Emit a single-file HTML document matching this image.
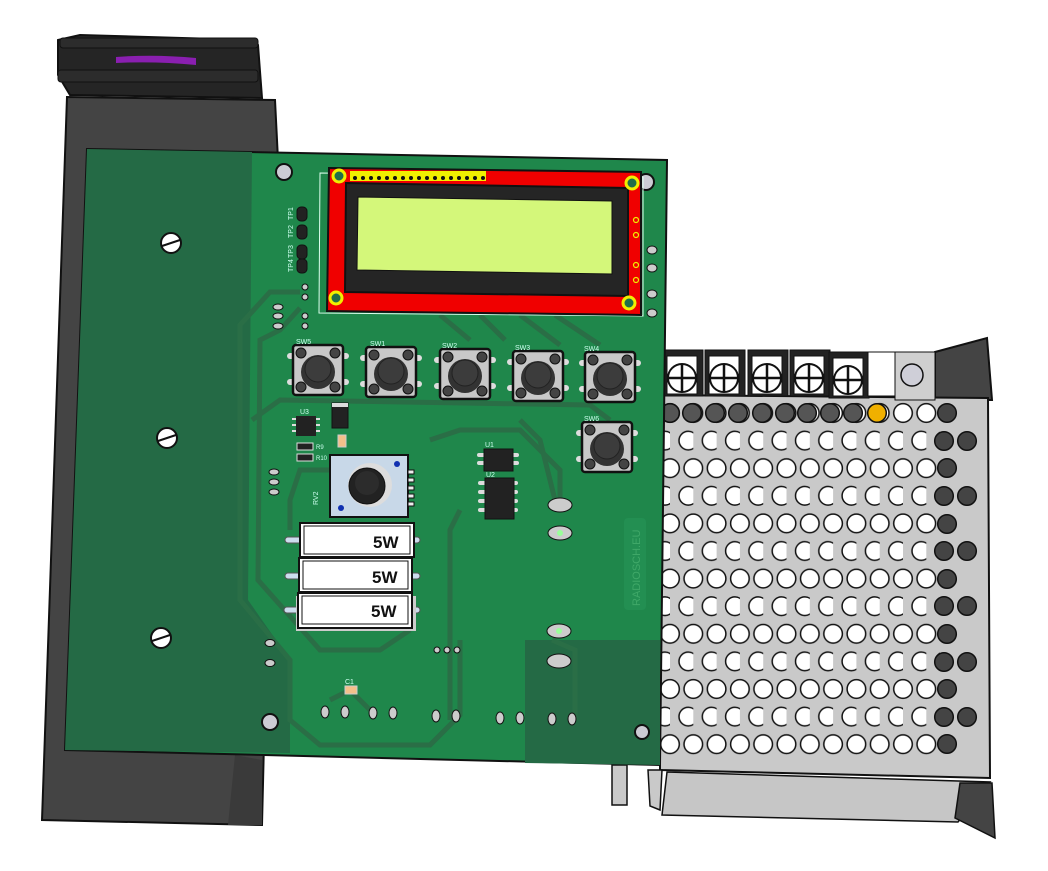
<!DOCTYPE html>
<html><head><meta charset="utf-8"><style>
html,body{margin:0;padding:0;background:#fff;}
svg{display:block;font-family:"Liberation Sans",sans-serif;}
</style></head><body>
<svg width="1048" height="871" viewBox="0 0 1048 871" xmlns="http://www.w3.org/2000/svg">
<defs>
<pattern id="holes" x="0" y="0" width="23.3" height="55.2" patternUnits="userSpaceOnUse" patternTransform="translate(670,413)">
<circle cx="0" cy="0" r="9.3" fill="#fff" stroke="#111" stroke-width="1.5"/>
<circle cx="0" cy="55.2" r="9.3" fill="#fff" stroke="#111" stroke-width="1.5"/>
<circle cx="23.3" cy="0" r="9.3" fill="#fff" stroke="#111" stroke-width="1.5"/>
<circle cx="23.3" cy="55.2" r="9.3" fill="#fff" stroke="#111" stroke-width="1.5"/>
<circle cx="18.3" cy="27.6" r="9.3" fill="#fff" stroke="#111" stroke-width="1.5"/>
</pattern>
<g id="btn">
<rect x="-6" y="8" width="62" height="6" rx="3" fill="#ddd"/>
<rect x="-6" y="34" width="62" height="6" rx="3" fill="#ddd"/>
<rect x="0" y="0" width="50" height="50" rx="3" fill="#c8c8c8" stroke="#111" stroke-width="2.5"/>
<circle cx="8" cy="8" r="5" fill="#444" stroke="#111"/>
<circle cx="42" cy="8" r="5" fill="#444" stroke="#111"/>
<circle cx="8" cy="42" r="5" fill="#444" stroke="#111"/>
<circle cx="42" cy="42" r="5" fill="#444" stroke="#111"/>
<circle cx="25" cy="27" r="17" fill="#333"/>
<circle cx="25" cy="24" r="13" fill="#3c3c3c" stroke="#222"/>
</g>
<g id="term">
<rect x="0" y="0" width="40" height="46" fill="#222" stroke="#111"/>
<path d="M4 6 h30 v38 h-30z" fill="#fff" stroke="#111"/>
<circle cx="19" cy="28" r="14" fill="#fff" stroke="#111" stroke-width="2"/>
<path d="M19 15 v26 M6 28 h26" stroke="#111" stroke-width="2.5"/>
</g>
</defs>

<!-- PSU -->
<polygon points="935,352 987,338 992,400 935,400" fill="#444" stroke="#111" stroke-width="2"/>
<polygon points="660,395 988,398 990,778 660,770" fill="#c9c9c9" stroke="#111" stroke-width="2"/>
<rect x="660" y="400" width="280" height="360" fill="url(#holes)"/>
<g fill="#444" stroke="#111" stroke-width="1.5">
<circle cx="947" cy="413" r="9.3"/><circle cx="947" cy="468" r="9.3"/><circle cx="947" cy="524" r="9.3"/><circle cx="947" cy="579" r="9.3"/><circle cx="947" cy="634" r="9.3"/><circle cx="947" cy="689" r="9.3"/><circle cx="947" cy="744" r="9.3"/>
<circle cx="944" cy="441" r="9.3"/><circle cx="944" cy="496" r="9.3"/><circle cx="944" cy="551" r="9.3"/><circle cx="944" cy="606" r="9.3"/><circle cx="944" cy="662" r="9.3"/><circle cx="944" cy="717" r="9.3"/>
<circle cx="967" cy="441" r="9.3"/><circle cx="967" cy="496" r="9.3"/><circle cx="967" cy="551" r="9.3"/><circle cx="967" cy="606" r="9.3"/><circle cx="967" cy="662" r="9.3"/><circle cx="967" cy="717" r="9.3"/>
</g>
<g fill="#555" stroke="#111" stroke-width="1.5">
<circle cx="670" cy="413" r="9.3"/><circle cx="692" cy="413" r="9.3"/><circle cx="715" cy="413" r="9.3"/><circle cx="738" cy="413" r="9.3"/><circle cx="762" cy="413" r="9.3"/><circle cx="785" cy="413" r="9.3"/><circle cx="807" cy="413" r="9.3"/><circle cx="830" cy="413" r="9.3"/><circle cx="853" cy="413" r="9.3"/>
</g>
<circle cx="877" cy="413" r="9.3" fill="#f0b000" stroke="#111" stroke-width="1.5"/>
<!-- terminal blocks -->
<use href="#term" x="663" y="350"/><use href="#term" x="705" y="350"/><use href="#term" x="748" y="350"/><use href="#term" x="790" y="350"/><use href="#term" x="829" y="352"/>
<rect x="868" y="352" width="27" height="44" fill="#fff" stroke="#111"/>
<rect x="895" y="352" width="40" height="48" fill="#cfcfcf" stroke="#111"/>
<circle cx="912" cy="375" r="11" fill="#cfcfd8" stroke="#111" stroke-width="1.5"/>
<!-- bottom flange -->
<polygon points="612,765 627,765 627,805 612,805" fill="#c9c9c9" stroke="#111" stroke-width="1.5"/>
<polygon points="648,770 662,770 660,810 650,806" fill="#c9c9c9" stroke="#111" stroke-width="1.5"/>
<polygon points="667,772 990,782 958,822 662,815" fill="#c6c6c6" stroke="#111" stroke-width="1.5"/>
<polygon points="960,783 992,783 995,838 955,818" fill="#444" stroke="#111" stroke-width="1.5"/>

<!-- heatsink -->
<polygon points="67,97 275,100 278,160 262,825 42,820" fill="#444" stroke="#111" stroke-width="2"/>
<polygon points="235,755 262,760 262,825 228,825" fill="#3a3a3a"/>
<!-- fan -->
<path d="M58 40 L80 35 L250 40 L258 45 L262 98 L70 95 L58 75 Z" fill="#252525" stroke="#111" stroke-width="2"/>
<rect x="58" y="70" width="200" height="12" rx="3" fill="#2c2c2c" stroke="#111"/>
<rect x="60" y="38" width="198" height="10" rx="3" fill="#2c2c2c" stroke="#111"/>
<path d="M116 57 Q155 54 196 58 L196 65 Q155 61 116 63 Z" fill="#8a1fb0"/>

<!-- PCB -->
<polygon points="87,149 667,160 660,765 65,750" fill="#1f874b" stroke="#111" stroke-width="2"/>
<polygon points="87,149 252,152 248,600 290,660 290,753 65,750" fill="#246a45"/>
<polygon points="525,640 660,640 660,765 525,763" fill="#246a45"/>
<!-- traces -->
<g fill="none" stroke="#2a6e46" stroke-width="5">
<path d="M300 292 L270 292 L240 325 L240 600 L290 660 L290 720 L320 745 L430 745 L460 715 L460 640"/>
<path d="M300 308 L280 330 L260 340 L258 580 L320 650 L380 650 L410 630"/>
<path d="M252 420 L280 400 L590 405 L610 420"/>
<path d="M440 315 L470 340 M480 315 L505 340 M520 315 L560 345 M555 315 L600 345"/>
<path d="M330 470 L300 470 L290 500 L290 530"/>
<path d="M430 440 L460 430 L520 430 L560 470 L560 500"/>
<path d="M460 510 L450 530 L450 720"/>
<path d="M330 700 L350 690 L370 710"/>
<path d="M552 640 L575 650 L575 720"/>
<path d="M520 420 L540 440 L555 500"/>
</g>
<!-- mounting holes & screws -->
<circle cx="284" cy="172" r="8" fill="#ccccd4" stroke="#111" stroke-width="2"/>
<circle cx="646" cy="182" r="8" fill="#ccccd4" stroke="#111" stroke-width="2"/>
<circle cx="270" cy="722" r="8" fill="#ccccd4" stroke="#111" stroke-width="2"/>
<circle cx="642" cy="732" r="7" fill="#ccccd4" stroke="#111" stroke-width="2"/>
<g fill="#fff" stroke="#111" stroke-width="2">
<circle cx="171" cy="243" r="10"/><circle cx="167" cy="438" r="10"/><circle cx="161" cy="638" r="10"/>
</g>
<g stroke="#111" stroke-width="2"><path d="M162 246 L180 240 M158 441 L176 435 M152 641 L170 635"/></g>

<!-- TP -->
<g fill="#222" stroke="#111">
<rect x="297" y="207" width="10" height="14" rx="4"/><rect x="297" y="225" width="10" height="14" rx="4"/>
<rect x="297" y="245" width="10" height="14" rx="4"/><rect x="297" y="259" width="10" height="14" rx="4"/>
</g>
<g fill="#cfe" font-size="7">
<text transform="translate(293,220) rotate(-90)">TP1</text><text transform="translate(293,238) rotate(-90)">TP2</text>
<text transform="translate(293,258) rotate(-90)">TP3</text><text transform="translate(293,272) rotate(-90)">TP4</text>
</g>
<g fill="#ccc" stroke="#111">
<circle cx="305" cy="287" r="3"/><circle cx="305" cy="297" r="3"/><circle cx="305" cy="316" r="3"/><circle cx="305" cy="326" r="3"/>
<ellipse cx="278" cy="307" rx="5" ry="3"/><ellipse cx="278" cy="316" rx="5" ry="3"/><ellipse cx="278" cy="326" rx="5" ry="3"/>
<ellipse cx="652" cy="250" rx="5" ry="4"/><ellipse cx="652" cy="268" rx="5" ry="4"/><ellipse cx="652" cy="294" rx="5" ry="4"/><ellipse cx="652" cy="313" rx="5" ry="4"/>
</g>

<!-- LCD -->
<polygon points="320,173 643,177 643,316 319,313" fill="none" stroke="#dfe" stroke-width="1"/>
<polygon points="329,168 641,172 641,315 327,311" fill="#f00000" stroke="#111" stroke-width="2"/>
<rect x="350" y="171" width="136" height="10" fill="#f0f000"/>
<g fill="#111"><circle cx="355" cy="178" r="2"/><circle cx="363" cy="178" r="2"/><circle cx="371" cy="178" r="2"/><circle cx="379" cy="178" r="2"/><circle cx="387" cy="178" r="2"/><circle cx="395" cy="178" r="2"/><circle cx="403" cy="178" r="2"/><circle cx="411" cy="178" r="2"/><circle cx="419" cy="178" r="2"/><circle cx="427" cy="178" r="2"/><circle cx="435" cy="178" r="2"/><circle cx="443" cy="178" r="2"/><circle cx="451" cy="178" r="2"/><circle cx="459" cy="178" r="2"/><circle cx="467" cy="178" r="2"/><circle cx="475" cy="178" r="2"/><circle cx="483" cy="178" r="2"/></g>
<polygon points="346,183 628,188 628,296 345,292" fill="#252525" stroke="#111" stroke-width="2"/>
<polygon points="358,197 612,201 612,274 357,270" fill="#d4f77a" stroke="#111"/>
<g fill="#1f6e4a" stroke="#f0f000" stroke-width="3">
<circle cx="339" cy="176" r="6"/><circle cx="632" cy="183" r="6"/><circle cx="336" cy="298" r="6"/><circle cx="629" cy="303" r="6"/>
</g>
<g fill="none" stroke="#f0f000" stroke-width="1.2"><circle cx="636" cy="220" r="2.5"/><circle cx="636" cy="235" r="2.5"/><circle cx="636" cy="265" r="2.5"/><circle cx="636" cy="280" r="2.5"/></g>

<!-- buttons -->
<use href="#btn" x="293" y="345"/><use href="#btn" x="366" y="347"/><use href="#btn" x="440" y="349"/><use href="#btn" x="513" y="351"/><use href="#btn" x="585" y="352"/><use href="#btn" x="582" y="422"/>
<g fill="#cfe" font-size="7">
<text x="296" y="344">SW5</text><text x="370" y="346">SW1</text><text x="442" y="348">SW2</text><text x="515" y="350">SW3</text><text x="584" y="351">SW4</text><text x="584" y="421">SW6</text>
</g>

<!-- small parts -->
<rect x="332" y="403" width="16" height="25" fill="#222" stroke="#111"/><rect x="332" y="403" width="16" height="4" fill="#ddd"/>
<rect x="296" y="416" width="20" height="20" fill="#222"/>
<g fill="#ddd"><rect x="292" y="418" width="4" height="2"/><rect x="292" y="424" width="4" height="2"/><rect x="292" y="430" width="4" height="2"/><rect x="316" y="418" width="4" height="2"/><rect x="316" y="424" width="4" height="2"/><rect x="316" y="430" width="4" height="2"/></g>
<text x="300" y="414" fill="#cfe" font-size="7">U3</text>
<rect x="338" y="435" width="8" height="12" fill="#f3c08a" stroke="#ccc"/>
<rect x="297" y="443" width="16" height="7" fill="#222" stroke="#ddd"/><rect x="297" y="454" width="16" height="7" fill="#222" stroke="#ddd"/>
<text x="316" y="449" fill="#cfe" font-size="6">R9</text><text x="316" y="460" fill="#cfe" font-size="6">R10</text>
<g fill="#ccc" stroke="#111"><ellipse cx="274" cy="472" rx="5" ry="3"/><ellipse cx="274" cy="482" rx="5" ry="3"/><ellipse cx="274" cy="492" rx="5" ry="3"/>
<ellipse cx="270" cy="643" rx="5" ry="3.5"/><ellipse cx="270" cy="663" rx="5" ry="3.5"/>
<circle cx="437" cy="650" r="3"/><circle cx="447" cy="650" r="3"/><circle cx="457" cy="650" r="3"/>
<ellipse cx="325" cy="712" rx="4" ry="6"/><ellipse cx="345" cy="712" rx="4" ry="6"/><ellipse cx="373" cy="713" rx="4" ry="6"/><ellipse cx="393" cy="713" rx="4" ry="6"/>
<ellipse cx="436" cy="716" rx="4" ry="6"/><ellipse cx="456" cy="716" rx="4" ry="6"/><ellipse cx="500" cy="718" rx="4" ry="6"/><ellipse cx="520" cy="718" rx="4" ry="6"/>
<ellipse cx="552" cy="719" rx="4" ry="6"/><ellipse cx="572" cy="719" rx="4" ry="6"/>
<ellipse cx="560" cy="505" rx="12" ry="7"/><ellipse cx="560" cy="533" rx="12" ry="7"/><ellipse cx="559" cy="631" rx="12" ry="7"/><ellipse cx="559" cy="661" rx="12" ry="7"/></g>
<circle cx="560" cy="533" r="3" fill="#9f9"/><circle cx="559" cy="631" r="3" fill="#9f9"/>
<rect x="345" y="686" width="12" height="8" fill="#f3c08a" stroke="#ccc"/>
<text x="345" y="684" fill="#cfe" font-size="7">C1</text>
<rect x="624" y="518" width="22" height="92" rx="4" fill="#238f52"/>
<text transform="translate(640,606) rotate(-90)" fill="#3fa868" font-size="11">RADIOSCH.EU</text>

<!-- pot -->
<rect x="330" y="455" width="78" height="62" fill="#c8d8e8" stroke="#111" stroke-width="2"/>
<g fill="#eee" stroke="#111"><rect x="408" y="470" width="6" height="4"/><rect x="408" y="478" width="6" height="4"/><rect x="408" y="486" width="6" height="4"/><rect x="408" y="494" width="6" height="4"/><rect x="408" y="502" width="6" height="4"/></g>
<circle cx="370" cy="485" r="22" fill="#ddd"/>
<circle cx="367" cy="486" r="18" fill="#222" stroke="#111"/>
<circle cx="367" cy="483" r="12" fill="#2c2c2c"/>
<circle cx="397" cy="464" r="3" fill="#1030b0"/><circle cx="341" cy="508" r="3" fill="#1030b0"/>
<text transform="translate(318,505) rotate(-90)" fill="#cfe" font-size="7">RV2</text>

<!-- ICs -->
<g fill="#ddd"><rect x="477" y="453" width="42" height="4" rx="2"/><rect x="477" y="461" width="42" height="4" rx="2"/>
<rect x="478" y="481" width="40" height="4" rx="2"/><rect x="478" y="490" width="40" height="4" rx="2"/><rect x="478" y="499" width="40" height="4" rx="2"/><rect x="478" y="508" width="40" height="4" rx="2"/></g>
<rect x="484" y="449" width="29" height="22" fill="#222" stroke="#111"/>
<rect x="485" y="478" width="29" height="41" fill="#222" stroke="#111"/>
<text x="485" y="447" fill="#cfe" font-size="7">U1</text><text x="486" y="477" fill="#cfe" font-size="7">U2</text>

<!-- resistors -->
<g fill="#cde" stroke="#555"><rect x="285" y="537" width="135" height="6" rx="3"/><rect x="285" y="573" width="135" height="6" rx="3"/><rect x="284" y="607" width="136" height="6" rx="3"/></g>
<rect x="296" y="596" width="120" height="35" fill="#ccc"/>
<g fill="#fff" stroke="#111" stroke-width="2">
<rect x="300" y="523" width="114" height="34"/><rect x="299" y="558" width="113" height="34"/><rect x="298" y="593" width="114" height="35"/>
</g>
<g fill="none" stroke="#111" stroke-width="1"><rect x="304" y="526" width="106" height="28"/><rect x="303" y="561" width="105" height="28"/><rect x="302" y="596" width="106" height="28"/></g>
<g font-weight="bold" font-size="17" fill="#111"><text x="373" y="548">5W</text><text x="372" y="583">5W</text><text x="371" y="617">5W</text></g>
</svg>
</body></html>
